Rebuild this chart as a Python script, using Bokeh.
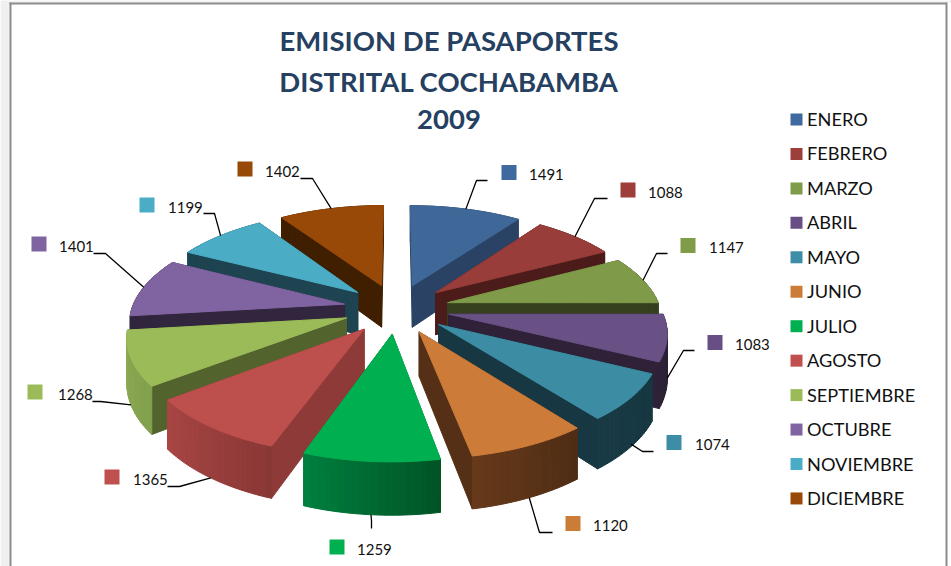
import math
from bokeh.plotting import figure
from bokeh.models import Range1d
from bokeh.core.properties import value
from bokeh.embed import file_html
from bokeh.resources import INLINE

months = ["ENERO", "FEBRERO", "MARZO", "ABRIL", "MAYO", "JUNIO", "JULIO", "AGOSTO",
          "SEPTIEMBRE", "OCTUBRE", "NOVIEMBRE", "DICIEMBRE"]
passports = [1491, 1088, 1147, 1083, 1074, 1120, 1259, 1365, 1268, 1401, 1199, 1402]
title_lines = ["EMISION DE PASAPORTES", "DISTRITAL COCHABAMBA", "2009"]

# styles
TOP = ["#3F6898", "#983D3A", "#7F9A48", "#695185", "#3C8DA3", "#CC7B38",
       "#00B050", "#BD4F4C", "#9BBB59", "#8064A2", "#4BACC6", "#984807"]
WALL = ["#2A4365", "#4C1C1A", "#36401F", "#2E2138", "#173842", "#553016",
        "#007236", "#8E3A38", "#52632D", "#32263F", "#1D4450", "#3F1F00"]
RIM_A = ["#2A4365", "#4C1C1A", "#36401F", "#2C2136", "#183A44", "#66391A",
         "#007F3D", "#A84644", "#8EAA54", "#32263F", "#1D4450", "#3F1F00"]
RIM_B = ["#2A4365", "#4C1C1A", "#36401F", "#2C2136", "#173842", "#4E2D14",
         "#005426", "#8A3836", "#82A04C", "#32263F", "#1D4450", "#3F1F00"]
SWATCH = ["#4069A0", "#9E3E3B", "#7F9C48", "#674F86", "#3D8DA6", "#CB7C36",
          "#00AF4F", "#C0504D", "#9BBB59", "#8064A2", "#4BACC6", "#984807"]

# layout (page pixels)
CX, CY = 396, 308
AX, BY, HZ, PERSP, EXPL = 212.5, 99, 43, 0.155, 0.25
LEADER_Z = [0, 0, 0, 0.9, 0.95, 1, 1, 1, 1, 0, 0, 0]
LEADER_MID = [(476, 180), (594, 198), (656, 253), (683, 350), (642, 451), (539, 532),
              (371, 520), (179, 486), (100, 401), (105, 253), (214, 213), (312, 178)]
LEADER_END = [(487, 180), (607, 198), (667, 253), (694, 350), (653, 451), (552, 532),
              (371, 528), (167, 486), (92, 401), (93, 253), (203, 213), (300, 178)]
LABEL_XY = [(528.5, 173.5), (647.5, 191.5), (708.5, 246.5), (734.5, 343.5), (694.5, 443.5), (592.5, 524.5),
            (356.5, 548.5), (132.5, 478.5), (57.5, 393.5), (58.5, 245.5), (167.5, 206.5), (264.5, 170.5)]
KEY_XY = [(508.5, 172), (627.5, 189.5), (687.5, 245), (714.5, 342), (673.5, 442), (572.5, 523),
          (336.5, 546.5), (111.5, 476.5), (34.5, 391.5), (38.5, 243.5), (146.5, 204.5), (244.5, 168.5)]
LEGEND_Y0, LEGEND_DY = 119, 34.45


def mix(a, b, t):
    ca = [int(a[i:i + 2], 16) for i in (1, 3, 5)]
    cb = [int(b[i:i + 2], 16) for i in (1, 3, 5)]
    return "#%02X%02X%02X" % tuple(round(x + (y - x) * t) for x, y in zip(ca, cb))


def project(X, Y, z=0.0):
    s = 1 + PERSP * Y
    return CX + AX * X / s, CY - (BY * Y - HZ * z) / s


p = figure(width=951, height=566, x_range=Range1d(0, 951), y_range=Range1d(566, 0),
           output_backend="svg", toolbar_location=None, min_border=0,
           x_axis_location=None, y_axis_location=None, outline_line_color=None,
           background_fill_color="white", border_fill_color="white",
           margin=(0, 0, 0, 0))
p.grid.visible = False

# window chrome of the original sheet
p.quad(left=[0, 0], right=[951, 9], top=[0, 0], bottom=[2, 566], fill_color="#F0F0F0", line_color=None)
p.quad(left=[9, 9, 945], right=[946, 11, 947], top=[2, 2, 2], bottom=[4, 566, 566],
       fill_color="#8C8C8C", line_color=None)

total = sum(passports)
slices = []
acc = 0
for i, v in enumerate(passports):
    a0 = acc / total * 2 * math.pi
    acc += v
    a1 = acc / total * 2 * math.pi
    slices.append((i, a0, a1, (a0 + a1) / 2))


def point(ang, r, mid, z=0.0):
    X = EXPL * math.sin(mid) + r * math.sin(ang)
    Y = EXPL * math.cos(mid) + r * math.cos(ang)
    return project(X, Y, z)


def face(pts, col):
    p.patch([q[0] for q in pts], [q[1] for q in pts], fill_color=col, line_color=col, line_width=1)


# far slices first
for i, a0, a1, mid in sorted(slices, key=lambda s: -math.cos(s[3])):
    n = max(3, int((a1 - a0) / math.radians(1.5)))
    angs = [a0 + (a1 - a0) * k / n for k in range(n + 1)]
    # radial walls
    walls = []
    for a in (a0, a1):
        walls.append((math.cos(a) / 2 + math.cos(mid) * EXPL,
                      [point(mid, 0, mid), point(a, 1, mid), point(a, 1, mid, 1), point(mid, 0, mid, 1)]))
    for _, pts in sorted(walls, key=lambda w: -w[0]):
        face(pts, WALL[i])
    # outer rim
    for k in range(n):
        pts = [point(angs[k], 1, mid), point(angs[k + 1], 1, mid),
               point(angs[k + 1], 1, mid, 1), point(angs[k], 1, mid, 1)]
        t = k / max(1, n - 1)
        # colour runs left-to-right on screen; slices go clockwise, near side right-to-left
        if math.cos(mid) < 0:
            t = 1 - t
        face(pts, mix(RIM_A[i], RIM_B[i], t))
    # top
    face([point(mid, 0, mid)] + [point(a, 1, mid) for a in angs], TOP[i])

# leaders, keys and values
for i, a0, a1, mid in slices:
    s = point(mid, 1, mid, LEADER_Z[i])
    p.line([s[0], LEADER_MID[i][0], LEADER_END[i][0]], [s[1], LEADER_MID[i][1], LEADER_END[i][1]],
           line_color="black", line_width=1.3)
p.rect([k[0] for k in KEY_XY], [k[1] for k in KEY_XY], width=15, height=15,
       fill_color=SWATCH, line_color=None)
p.text([l[0] for l in LABEL_XY], [l[1] for l in LABEL_XY], text=[str(v) for v in passports],
       text_font=value("Lato"), text_font_size="15px", text_color="#111111",
       text_align="left", text_baseline="middle")

# legend
leg_y = [LEGEND_Y0 + LEGEND_DY * k for k in range(len(months))]
p.rect([796] * len(months), leg_y, width=12, height=12, fill_color=SWATCH, line_color=None)
p.text([806.5] * len(months), [y - 0.5 for y in leg_y], text=months, text_font=value("Lato"), text_font_size="18.2px",
       text_color="#111111", text_align="left", text_baseline="middle")

# title
p.text([448.5] * 3, [40, 80.5, 118.5], text=title_lines, text_font=value("Lato"), text_font_size="27.5px",
       text_font_style="bold", text_color="#254061", text_align="center", text_baseline="middle")

open("out.html", "w").write(file_html(p, INLINE))
